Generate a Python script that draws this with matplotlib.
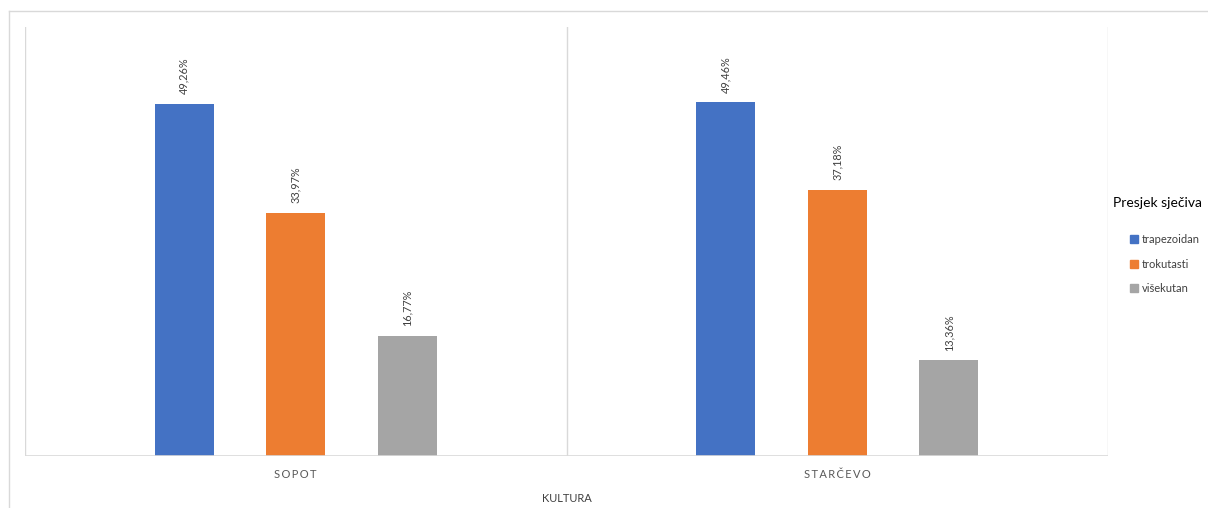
import matplotlib.pyplot as plt
from matplotlib.lines import Line2D
import numpy as np

categories = ["SOPOT", "STARČEVO"]
series_names = ["trapezoidan", "trokutasti", "višekutan"]
trapezoidan = [49.26, 49.46]
trokutasti = [33.97, 37.18]
visekutan = [16.77, 13.36]
colors = ["#4472c4", "#ed7d31", "#a5a5a5"]

plt.rcParams['font.family'] = ['Lato', 'DejaVu Sans']

fig = plt.figure(figsize=(12.08, 5.08), dpi=100)
ax = fig.add_axes([25 / 1208, 52 / 508, 1083 / 1208, 429 / 508])

x = np.arange(len(categories))
width = 0.109
offsets = [-0.206, 0, 0.206]
for vals, name, col, off in zip([trapezoidan, trokutasti, visekutan], series_names, colors, offsets):
    bars = ax.bar(x + off, vals, width, color=col, label=name, zorder=2)
    for b, v in zip(bars, vals):
        ax.annotate(f"{v:.2f}%".replace(".", ","),
                    (b.get_x() + b.get_width() / 2, b.get_height()),
                    xytext=(0, 7), textcoords="offset points",
                    rotation=90, ha="center", va="bottom", fontsize=7.8, color="#404040")

ax.set_xlim(-0.5, 1.5)
ax.set_ylim(0, 60)
for xs in [-0.5, 0.5, 1.5]:
    ax.axvline(xs, color="#d9d9d9", lw=1, zorder=1)
for s in ax.spines.values():
    s.set_visible(False)
ax.axhline(0, color="#d9d9d9", lw=1.2, zorder=3)
ax.set_yticks([])
ax.set_xticks(x)
ax.set_xticklabels(["\u2009".join(c) for c in categories], fontsize=8, color="#595959")
ax.tick_params(axis="x", length=0, pad=9)
ax.set_xlabel("KULTURA", fontsize=8, color="#404040", labelpad=10)

# outer border of the chart area
fig.add_artist(Line2D([9 / 1208, 1], [1 - 11 / 508, 1 - 11 / 508], color="#d9d9d9", lw=1))
fig.add_artist(Line2D([9 / 1208, 9 / 1208], [0, 1 - 11 / 508], color="#d9d9d9", lw=1))

# legend title drawn separately so the entries can be indented like the original
fig.text(1113 / 1208, 1 - 203 / 508, "Presjek sječiva", fontsize=10, va="center", ha="left")
handles = [Line2D([], [], marker="s", ls="", color=c, markersize=6) for c in colors]
leg = fig.legend(handles, series_names, loc="center left",
                 bbox_to_anchor=(1120 / 1208, 1 - 264 / 508), frameon=False,
                 fontsize=8, handlelength=0.8, handletextpad=0.3,
                 labelspacing=1.25, borderpad=0.4)
for t in leg.get_texts():
    t.set_color("#404040")

fig.savefig("out.png", dpi=100, facecolor="white")
